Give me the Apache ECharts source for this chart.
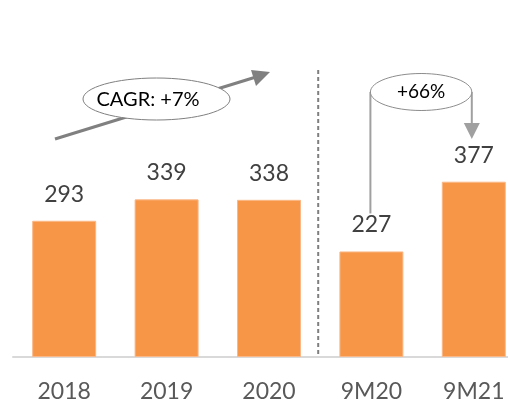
<!DOCTYPE html>
<html>
<head>
<meta charset="utf-8">
<script src="https://cdn.jsdelivr.net/npm/echarts@6/dist/echarts.min.js"></script>
<style>html,body{margin:0;padding:0;background:#fff}#c{width:508px;height:405px}</style>
</head>
<body>
<div id="c"></div>
<script>
var categories = ['2018', '2019', '2020', '9M20', '9M21'];
var values = [293, 339, 338, 227, 377];
var cagrText = 'CAGR: +7%';
var growthText = '+66%';

var FONT = 'Lato';
var chart = echarts.init(document.getElementById('c'), null, {renderer: 'canvas'});
chart.setOption({
  animation: false,
  grid: {left: 13, width: 512, top: 171, bottom: 48, containLabel: false, outerBoundsMode: 'none'},
  xAxis: {
    type: 'category',
    data: categories,
    axisLine: {show: true, lineStyle: {color: '#d9d9d9', width: 2}},
    axisTick: {show: false},
    axisLabel: {color: '#595959', fontSize: 23, fontFamily: FONT, margin: 23, lineHeight: 23}
  },
  yAxis: {type: 'value', min: 0, max: 400, show: false, splitLine: {show: false}},
  series: [{
    type: 'bar',
    data: values,
    barWidth: 64,
    itemStyle: {color: '#F79646', borderColor: '#FAB888', borderWidth: 1},
    label: {show: true, position: 'top', distance: 15, color: '#404040', fontSize: 23, fontFamily: FONT, lineHeight: 23}
  }]
});

function px(i, v) { return chart.convertToPixel({gridIndex: 0}, [i, v]); }
var baseY = px(0, 0)[1];
var xs = categories.map(function (c, i) { return px(i, 0)[0]; });
var dividerX = (xs[2] + xs[3]) / 2 - 2;

// growth cylinder
var lx = xs[3] - 1, rx = xs[4] - 2;
var ecx = (lx + rx) / 2, ecy = 92, erx = (rx - lx) / 2;
var top3 = px(3, values[3])[1];

chart.setOption({
  graphic: [
    {type: 'line', shape: {x1: dividerX, y1: 70, x2: dividerX, y2: baseY - 1},
     style: {stroke: '#7f7f7f', lineWidth: 2, lineDash: [4, 3]}},
    // CAGR arrow
    {type: 'line', shape: {x1: 55, y1: 139, x2: 256, y2: 77},
     style: {stroke: '#808080', lineWidth: 3}},
    {type: 'polygon', shape: {points: [[270, 72], [251, 70], [256, 86]]},
     style: {fill: '#808080'}},
    {type: 'ellipse', shape: {cx: 156.5, cy: 99, rx: 73.5, ry: 21},
     style: {fill: '#ffffff', stroke: '#7f7f7f', lineWidth: 1}},
    {type: 'text', style: {text: cagrText, x: 148, y: 100, align: 'center', verticalAlign: 'middle',
     font: '20px ' + FONT, fill: '#000000'}},
    // +66% cylinder
    {type: 'line', shape: {x1: lx, y1: ecy, x2: lx, y2: top3 - 38},
     style: {stroke: '#a0a0a0', lineWidth: 2}},
    {type: 'line', shape: {x1: rx, y1: ecy, x2: rx, y2: 124},
     style: {stroke: '#a0a0a0', lineWidth: 2}},
    {type: 'polygon', shape: {points: [[rx - 8, 123], [rx + 8, 123], [rx, 139]]},
     style: {fill: '#a0a0a0'}},
    {type: 'ellipse', shape: {cx: ecx, cy: ecy, rx: erx, ry: 18.5},
     style: {fill: '#ffffff', stroke: '#8c8c8c', lineWidth: 1}},
    {type: 'text', style: {text: growthText, x: ecx, y: ecy, align: 'center', verticalAlign: 'middle',
     font: '19px ' + FONT, fill: '#000000'}}
  ]
});
</script>
</body>
</html>
